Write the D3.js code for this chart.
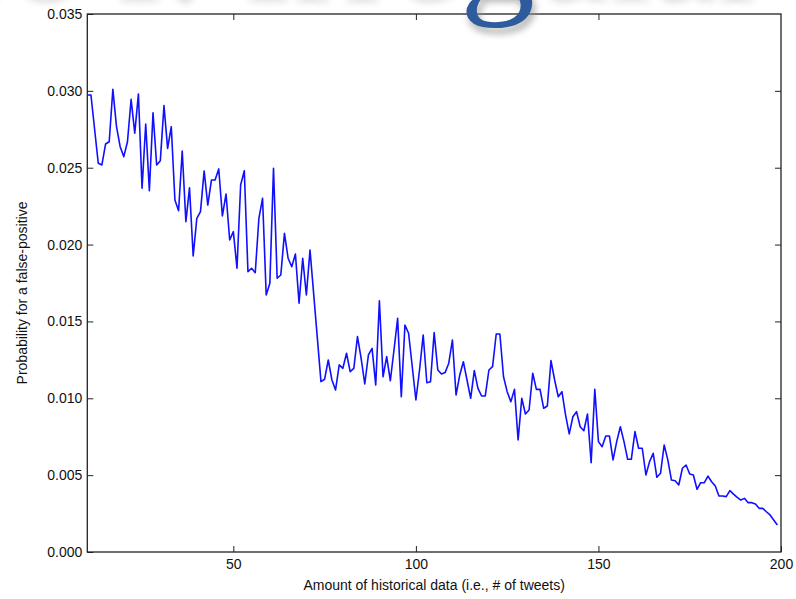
<!DOCTYPE html>
<html>
<head>
<meta charset="utf-8">
<script src="https://cdn.jsdelivr.net/npm/d3@7"></script>
<style>
  body { margin: 0; background: #fff; }
  svg { display: block; }
  .tick text { font-family: "Liberation Sans", Arial, sans-serif; font-size: 14px; fill: #111; }
  .axis path { display: none; }
  .tick line { stroke: #222; }
</style>
</head>
<body>
<svg width="796" height="599"></svg>
<script>
const tweets = [
  10, 11, 13, 14, 15, 16, 17, 18, 19, 20, 21, 22, 23, 24, 25, 26, 27, 28, 29, 30,
  31, 32, 33, 34, 35, 36, 37, 38, 39, 40, 41, 42, 43, 44, 45, 46, 47, 48, 49, 50,
  51, 52, 53, 54, 55, 56, 57, 58, 59, 60, 61, 62, 63, 64, 65, 66, 67, 68, 69, 70,
  71, 74, 75, 76, 77, 78, 79, 80, 81, 82, 83, 84, 85, 86, 87, 88, 89, 90, 91, 92,
  93, 94, 95, 96, 97, 98, 100, 101, 102, 103, 104, 105, 106, 107, 108, 109, 110, 111, 112, 113,
  114, 115, 116, 117, 118, 119, 120, 121, 122, 123, 124, 125, 126, 127, 128, 129, 130, 131, 132, 133,
  134, 135, 136, 137, 138, 139, 140, 141, 142, 143, 144, 145, 146, 147, 148, 149, 150, 151, 152, 153,
  154, 155, 156, 157, 158, 159, 160, 161, 162, 163, 164, 165, 166, 167, 168, 169, 170, 171, 172, 173,
  174, 175, 176, 177, 178, 179, 180, 181, 182, 183, 184, 185, 186, 187, 188, 189, 190, 191, 192, 193,
  194, 195, 196, 197, 198, 199
];

const falsePositive = [
  0.02973, 0.02973, 0.02529, 0.02518, 0.02654, 0.02669, 0.0301, 0.02767, 0.02637, 0.02572,
  0.02669, 0.02945, 0.02724, 0.0298, 0.02366, 0.02784, 0.02351, 0.02858, 0.02518, 0.02546,
  0.02904, 0.02626, 0.02767, 0.0229, 0.0222, 0.02609, 0.02149, 0.0237, 0.01926, 0.02171,
  0.02214, 0.02479, 0.02257, 0.0242, 0.0242, 0.02492, 0.02186, 0.02329, 0.0203, 0.02084,
  0.01846, 0.02388, 0.0248, 0.01824, 0.01846, 0.01817, 0.02171, 0.02301, 0.01672, 0.01748,
  0.02496, 0.01781, 0.01802, 0.02073, 0.01911, 0.01856, 0.01939, 0.01618, 0.01911, 0.01672,
  0.01965, 0.01108, 0.01124, 0.01249, 0.01119, 0.01054, 0.01217, 0.01195, 0.01293, 0.01173,
  0.01195, 0.01401, 0.0126, 0.01093, 0.01282, 0.01325, 0.01086, 0.01635, 0.0114, 0.01271,
  0.01114, 0.01314, 0.0152, 0.0101, 0.01477, 0.01423, 0.00989, 0.01184, 0.01412, 0.01101,
  0.01108, 0.01427, 0.01184, 0.01158, 0.01167, 0.01228, 0.01379, 0.01021, 0.0115, 0.01238,
  0.01119, 0.0100, 0.0118, 0.01065, 0.01015, 0.01015, 0.01184, 0.01206, 0.01418, 0.01418,
  0.0114, 0.01043, 0.00978, 0.01058, 0.00729, 0.0100, 0.00898, 0.00924, 0.01163, 0.01058,
  0.01058, 0.00935, 0.0095, 0.01245, 0.01119, 0.0101, 0.01043, 0.00891, 0.00768, 0.0088,
  0.00913, 0.00815, 0.00789, 0.00898, 0.00581, 0.01058, 0.00718, 0.00685, 0.00755, 0.00755,
  0.00599, 0.00718, 0.00815, 0.00718, 0.00603, 0.00603, 0.00783, 0.00675, 0.00675, 0.00501,
  0.00588, 0.00642, 0.00486, 0.00512, 0.00696, 0.00599, 0.00468, 0.00464, 0.00436, 0.00545,
  0.00566, 0.00507, 0.00501, 0.00408, 0.00451, 0.00451, 0.00494, 0.00457, 0.00429, 0.00364,
  0.00364, 0.0036, 0.00399, 0.00377, 0.00356, 0.00338, 0.00349, 0.00321, 0.00321, 0.00312,
  0.00284, 0.00284, 0.00262, 0.00241, 0.00208, 0.00176
];

const xTicks = [50, 100, 150, 200];
const yTicks = [0, 0.005, 0.010, 0.015, 0.020, 0.025, 0.030, 0.035];

const xLabel = "Amount of historical data (i.e., # of tweets)";
const yLabel = "Probability for a false-positive";
const slideTitle = "Case I: Irregular";

const svg = d3.select("svg");
const plotLeft = 87.3, plotRight = 781, plotTop = 14, plotBottom = 552;

const x = d3.scaleLinear().domain([10, 200]).range([plotLeft, plotRight]);
const y = d3.scaleLinear().domain([0, 0.035]).range([plotBottom, plotTop]);

const defs = svg.append("defs");
defs.append("filter").attr("id", "soft")
    .attr("x", "-20%").attr("y", "-50%").attr("width", "140%").attr("height", "200%")
    .append("feGaussianBlur").attr("stdDeviation", 3);

// slide title behind the chart: only faint blurred letter bottoms show
const titleFont = g => g.style("font-family", "Liberation Serif, serif").style("font-size", "150px");

const probe = svg.append("text").call(titleFont).text(slideTitle.slice(0, slideTitle.indexOf("g")));
const preWidth = probe.node().getComputedTextLength();
probe.remove();
const titleX = 460 - preWidth;

svg.append("text")
    .call(titleFont)
    .attr("x", titleX)
    .attr("y", 2)
    .attr("fill", "#c8c8c8")
    .attr("opacity", 0.55)
    .attr("filter", "url(#soft)")
    .text(slideTitle);

// axes, ticks pointing inward
svg.append("g")
    .attr("class", "axis")
    .attr("transform", `translate(0,${plotBottom})`)
    .call(d3.axisBottom(x).tickValues(xTicks).tickSizeInner(-6).tickSizeOuter(0).tickPadding(7).tickFormat(d3.format("d")));

svg.append("g")
    .attr("class", "axis")
    .attr("transform", `translate(0,${plotTop})`)
    .call(d3.axisTop(x).tickValues(xTicks.slice(0, 3)).tickSizeInner(-6).tickSizeOuter(0).tickFormat(""));

svg.append("g")
    .attr("class", "axis")
    .attr("transform", `translate(${plotLeft},0)`)
    .call(d3.axisLeft(y).tickValues(yTicks).tickSizeInner(-6).tickSizeOuter(0).tickPadding(5).tickFormat(d3.format(".3f")));

svg.append("g")
    .attr("class", "axis")
    .attr("transform", `translate(${plotRight},0)`)
    .call(d3.axisRight(y).tickValues(yTicks.slice(1, 7)).tickSizeInner(-6).tickSizeOuter(0).tickFormat(""));

svg.append("rect")
    .attr("x", plotLeft)
    .attr("y", plotTop)
    .attr("width", plotRight - plotLeft)
    .attr("height", plotBottom - plotTop)
    .attr("fill", "none")
    .attr("stroke", "#222")
    .attr("stroke-width", 1.3);

// the series
const line = d3.line()
    .x((d, i) => x(tweets[i]))
    .y(d => y(d));

svg.append("path")
    .datum(falsePositive)
    .attr("d", line)
    .attr("fill", "none")
    .attr("stroke", "#1010ff")
    .attr("stroke-width", 1.6)
    .attr("stroke-linejoin", "round");

svg.append("text")
    .attr("x", (plotLeft + plotRight) / 2)
    .attr("y", 590)
    .attr("text-anchor", "middle")
    .style("font-family", "Liberation Sans, Arial, sans-serif")
    .style("font-size", "14px")
    .attr("fill", "#111")
    .text(xLabel);

svg.append("text")
    .attr("transform", `translate(27,${(plotTop + plotBottom) / 2 + 10}) rotate(-90)`)
    .attr("text-anchor", "middle")
    .style("font-family", "Liberation Sans, Arial, sans-serif")
    .style("font-size", "14px")
    .attr("fill", "#111")
    .text(yLabel);

// the one descender that reaches over the chart, with its shadow
const gIndex = slideTitle.indexOf("g");
[["#999", 0.5, 4, 6, "url(#soft)"], ["#2d5b9b", 1, 0, 0, null]].forEach(([fill, op, dx, dy, filter]) => {
    const t = svg.append("text")
        .call(titleFont)
        .attr("x", titleX + dx)
        .attr("y", -4 + dy)
        .attr("opacity", op)
        .attr("filter", filter);
    t.append("tspan").attr("fill-opacity", 0).text(slideTitle.slice(0, gIndex));
    t.append("tspan").attr("fill", fill).text("g");
});
</script>
</body>
</html>
